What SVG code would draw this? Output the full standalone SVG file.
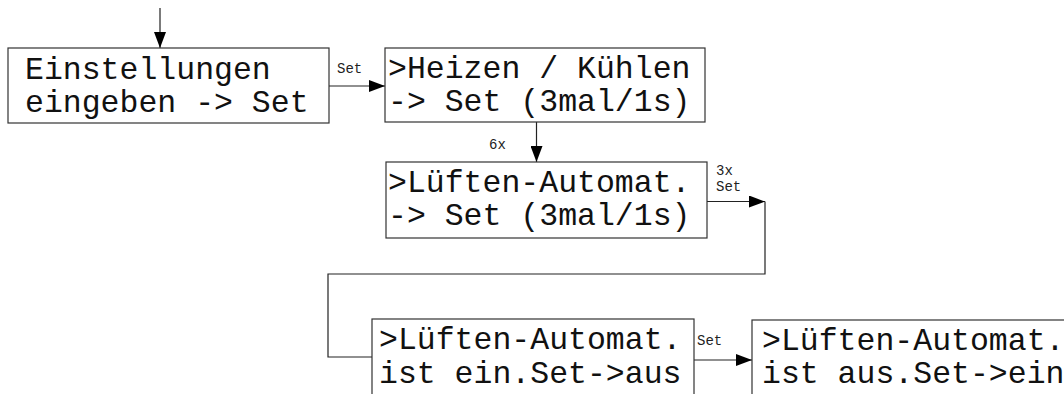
<svg xmlns="http://www.w3.org/2000/svg" width="1064" height="394" viewBox="0 0 1064 394">
<style>
.box{fill:#fff;stroke:#333;stroke-width:1.2}
.t{font-family:"Liberation Mono",monospace;font-size:31.5px;fill:#111}
.s{font-family:"Liberation Mono",monospace;font-size:14px;fill:#222}
.c{fill:none;stroke:#222;stroke-width:1.2}
</style>
<defs>
<marker id="ah" markerUnits="userSpaceOnUse" markerWidth="16" markerHeight="12" refX="16" refY="6" orient="auto">
<path d="M0,0 L16,6 L0,12 Z" fill="#000"/>
</marker>
</defs>
<rect width="1064" height="394" fill="#fff"/>
<g id="connectors">
<line class="c" x1="160" y1="8" x2="160" y2="48" marker-end="url(#ah)"/>
<line class="c" x1="329" y1="86" x2="385" y2="86" marker-end="url(#ah)"/>
<line class="c" x1="536.5" y1="122" x2="536.5" y2="162" marker-end="url(#ah)"/>
<line class="c" x1="707" y1="201.5" x2="765" y2="201.5" marker-end="url(#ah)"/>
<polyline class="c" points="765,201.5 765,274 328,274 328,357 372,357"/>
<line class="c" x1="694" y1="360" x2="752" y2="360" marker-end="url(#ah)"/>
<text class="s" x="337" y="73">Set</text>
<text class="s" x="489" y="149">6x</text>
<text class="s" x="716" y="175">3x</text>
<text class="s" x="716" y="191">Set</text>
<text class="s" x="697" y="345">Set</text>
</g>
<g id="n1">
<rect class="box" x="8" y="48" width="321" height="75"/>
<text class="t" x="25" y="79">Einstellungen</text>
<text class="t" x="25" y="112">eingeben -&gt; Set</text>
</g>
<g id="n2">
<rect class="box" x="385" y="48" width="320" height="74"/>
<text class="t" x="388" y="78">&gt;Heizen / Kühlen</text>
<text class="t" x="388" y="111">-&gt; Set (3mal/1s)</text>
</g>
<g id="n3">
<rect class="box" x="386" y="162" width="321" height="76"/>
<text class="t" x="388" y="192">&gt;Lüften-Automat.</text>
<text class="t" x="388" y="225">-&gt; Set (3mal/1s)</text>
</g>
<g id="n4">
<rect class="box" x="372" y="319" width="322" height="110"/>
<text class="t" x="379" y="349">&gt;Lüften-Automat.</text>
<text class="t" x="379" y="383">ist ein.Set-&gt;aus</text>
</g>
<g id="n5">
<rect class="box" x="752" y="320" width="340" height="110"/>
<text class="t" x="762" y="350">&gt;Lüften-Automat.</text>
<text class="t" x="762" y="383">ist aus.Set-&gt;ein</text>
</g>
</svg>
